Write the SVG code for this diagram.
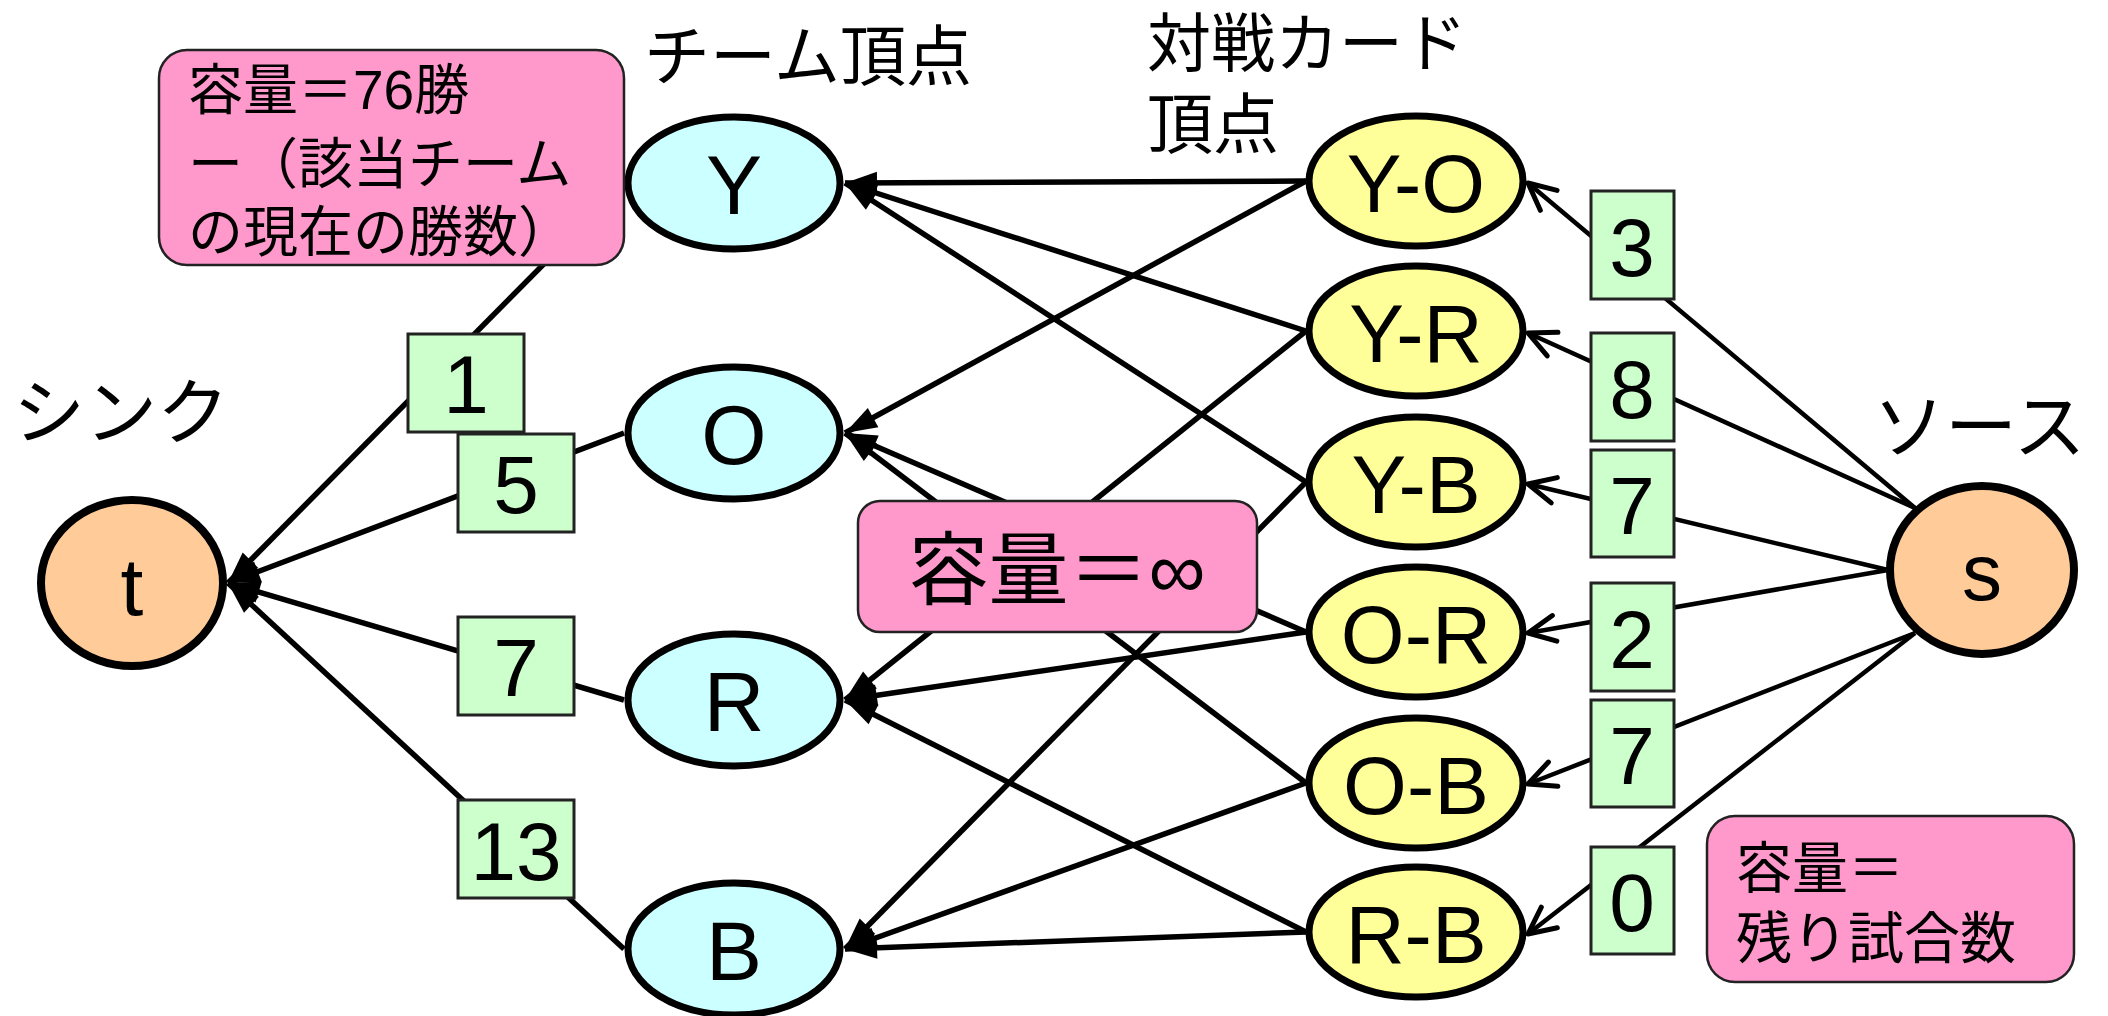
<svg xmlns="http://www.w3.org/2000/svg" width="2108" height="1016" viewBox="0 0 2108 1016">
<defs>
<style>
.edge{stroke:#000;stroke-width:5.5;fill:none}
.ef{marker-end:url(#fillArrow)}
.eo{marker-end:url(#openArrow);stroke-width:4.5}
.team{fill:#CCFFFF;stroke:#000;stroke-width:7}
.match{fill:#FFFF99;stroke:#000;stroke-width:7}
.term{fill:#FFCC99;stroke:#000;stroke-width:8}
.cap{fill:#CCFFCC;stroke:#222;stroke-width:3}
.note{fill:#FF99CC;stroke:#222;stroke-width:2.5}
text{font-family:"Liberation Sans","Noto Sans CJK JP",sans-serif;fill:#000}
.lbl{font-size:84px;text-anchor:middle}
.mlbl{font-size:82px;text-anchor:middle}
.num{font-size:82px;text-anchor:middle}
</style>
<marker id="fillArrow" markerUnits="userSpaceOnUse" orient="auto" overflow="visible" markerWidth="40" markerHeight="40" refX="0" refY="0">
<path d="M-32,-11 L0,0 L-32,11 Z" fill="#000"/>
</marker>
<marker id="openArrow" markerUnits="userSpaceOnUse" orient="auto" overflow="visible" markerWidth="40" markerHeight="40" refX="0" refY="0">
<path d="M-27,-13 L0,0 L-27,13" fill="none" stroke="#000" stroke-width="5" stroke-linecap="round" stroke-linejoin="round"/>
</marker>
</defs>

<g id="connectors">
<line class="edge ef" x1="624" y1="183" x2="228" y2="583"/>
<line class="edge ef" x1="624" y1="433" x2="228" y2="583"/>
<line class="edge ef" x1="624" y1="700" x2="228" y2="583"/>
<line class="edge ef" x1="624" y1="949" x2="228" y2="583"/>
<line class="edge ef" x1="1306" y1="181" x2="845" y2="183"/>
<line class="edge ef" x1="1306" y1="181" x2="845" y2="433"/>
<line class="edge ef" x1="1306" y1="331" x2="845" y2="183"/>
<line class="edge ef" x1="1306" y1="331" x2="845" y2="700"/>
<line class="edge ef" x1="1306" y1="482" x2="845" y2="183"/>
<line class="edge ef" x1="1306" y1="482" x2="845" y2="949"/>
<line class="edge ef" x1="1306" y1="632" x2="845" y2="433"/>
<line class="edge ef" x1="1306" y1="632" x2="845" y2="700"/>
<line class="edge ef" x1="1306" y1="783" x2="845" y2="433"/>
<line class="edge ef" x1="1306" y1="783" x2="845" y2="949"/>
<line class="edge ef" x1="1306" y1="932" x2="845" y2="700"/>
<line class="edge ef" x1="1306" y1="932" x2="845" y2="949"/>
<line class="edge eo" x1="1915" y1="508" x2="1528" y2="183"/>
<line class="edge eo" x1="1915" y1="508" x2="1528" y2="333"/>
<line class="edge eo" x1="1888" y1="570" x2="1528" y2="484"/>
<line class="edge eo" x1="1888" y1="570" x2="1528" y2="633"/>
<line class="edge eo" x1="1915" y1="633" x2="1528" y2="784"/>
<line class="edge eo" x1="1915" y1="633" x2="1528" y2="934"/>
</g>

<g id="node-t"><ellipse class="term" cx="132" cy="583" rx="91" ry="83"/><text class="num" x="132" y="615">t</text></g>
<g id="node-s"><ellipse class="term" cx="1982" cy="570" rx="92" ry="84"/><text class="num" x="1982" y="600" style="font-size:80px">s</text></g>

<g id="node-Y"><ellipse class="team" cx="734" cy="183" rx="106" ry="66"/><text class="lbl" x="734" y="214">Y</text></g>
<g id="node-O"><ellipse class="team" cx="734" cy="433" rx="106" ry="66"/><text class="lbl" x="734" y="464">O</text></g>
<g id="node-R"><ellipse class="team" cx="734" cy="700" rx="106" ry="66"/><text class="lbl" x="734" y="731">R</text></g>
<g id="node-B"><ellipse class="team" cx="734" cy="949" rx="106" ry="66"/><text class="lbl" x="734" y="980">B</text></g>

<g id="node-YO"><ellipse class="match" cx="1416" cy="181" rx="107" ry="65"/><text class="mlbl" x="1416" y="212">Y-O</text></g>
<g id="node-YR"><ellipse class="match" cx="1416" cy="331" rx="107" ry="65"/><text class="mlbl" x="1416" y="362">Y-R</text></g>
<g id="node-YB"><ellipse class="match" cx="1416" cy="482" rx="107" ry="65"/><text class="mlbl" x="1416" y="513">Y-B</text></g>
<g id="node-OR"><ellipse class="match" cx="1416" cy="632" rx="107" ry="65"/><text class="mlbl" x="1416" y="663">O-R</text></g>
<g id="node-OB"><ellipse class="match" cx="1416" cy="783" rx="107" ry="65"/><text class="mlbl" x="1416" y="814">O-B</text></g>
<g id="node-RB"><ellipse class="match" cx="1416" cy="932" rx="107" ry="65"/><text class="mlbl" x="1416" y="963">R-B</text></g>

<g id="cap-Yt"><rect class="cap" x="408" y="334" width="116" height="98"/><text class="num" x="466" y="413">1</text></g>
<g id="cap-Ot"><rect class="cap" x="458" y="434" width="116" height="98"/><text class="num" x="516" y="513">5</text></g>
<g id="cap-Rt"><rect class="cap" x="458" y="617" width="116" height="98"/><text class="num" x="516" y="696">7</text></g>
<g id="cap-Bt"><rect class="cap" x="458" y="800" width="116" height="98"/><text class="num" x="516" y="880">13</text></g>

<g id="cap-sYO"><rect class="cap" x="1591" y="191" width="83" height="108"/><text class="num" x="1632" y="276">3</text></g>
<g id="cap-sYR"><rect class="cap" x="1591" y="333" width="83" height="108"/><text class="num" x="1632" y="418">8</text></g>
<g id="cap-sYB"><rect class="cap" x="1591" y="450" width="83" height="107"/><text class="num" x="1632" y="534">7</text></g>
<g id="cap-sOR"><rect class="cap" x="1591" y="583" width="83" height="108"/><text class="num" x="1632" y="668">2</text></g>
<g id="cap-sOB"><rect class="cap" x="1591" y="700" width="83" height="107"/><text class="num" x="1632" y="784">7</text></g>
<g id="cap-sRB"><rect class="cap" x="1591" y="847" width="83" height="107"/><text class="num" x="1632" y="931">0</text></g>

<g id="note-team">
<rect class="note" x="159" y="50" width="465" height="215" rx="28" ry="28"/>
<text x="188" y="109" font-size="55">容量＝76勝</text>
<text x="188" y="183" font-size="55">ー（該当チーム</text>
<text x="188" y="251" font-size="55">の現在の勝数）</text>
</g>
<g id="note-inf">
<rect class="note" x="858" y="501" width="399" height="131" rx="22" ry="22"/>
<text x="1057" y="598" font-size="80" text-anchor="middle">容量＝∞</text>
</g>
<g id="note-src">
<rect class="note" x="1707" y="816" width="367" height="166" rx="28" ry="28"/>
<text x="1736" y="888" font-size="56">容量＝</text>
<text x="1736" y="958" font-size="56">残り試合数</text>
</g>

<g id="titles">
<text x="644" y="80" font-size="66">チーム頂点</text>
<text x="1147" y="66" font-size="64">対戦カード</text>
<text x="1147" y="148" font-size="66">頂点</text>
<text x="13" y="438" font-size="72">シンク</text>
<text x="1873" y="452" font-size="72">ソース</text>
</g>
</svg>
